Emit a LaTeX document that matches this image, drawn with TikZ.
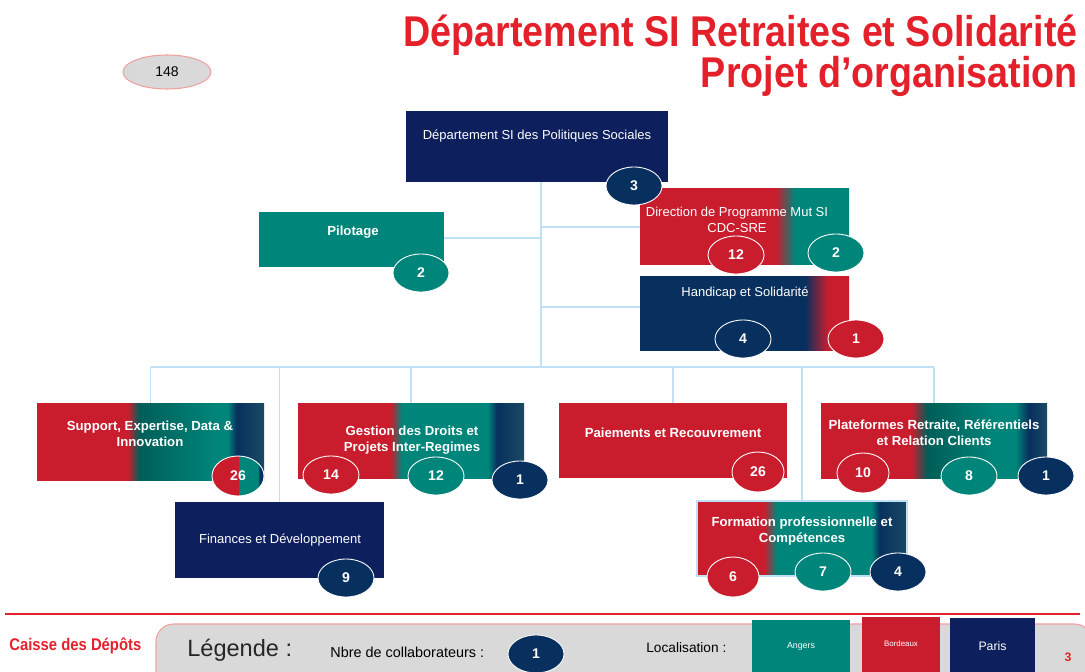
\documentclass[tikz,border=0pt]{standalone}
\usepackage{fontspec}
\setmainfont{Liberation Sans}
\usetikzlibrary{shapes.geometric}
\definecolor{cred}{HTML}{C91D2E}
\definecolor{tred}{HTML}{E4202A}
\definecolor{cteal}{HTML}{00857A}
\definecolor{dteal}{HTML}{005E58}
\definecolor{cnavy}{HTML}{0E1F5E}
\definecolor{bnavy}{HTML}{07305E}
\definecolor{lnavy}{HTML}{1B4A63}
\definecolor{conn}{HTML}{BFE0F5}
\definecolor{lgray}{HTML}{D9D9D9}
\definecolor{pinkb}{HTML}{F0A0A0}
\pgfdeclarehorizontalshading{shDir}{100bp}{color(0bp)=(cred); color(25bp)=(cred); color(57.5bp)=(cred); color(62bp)=(cteal); color(75bp)=(cteal); color(100bp)=(cteal)}
\pgfdeclarehorizontalshading{shHand}{100bp}{color(0bp)=(bnavy); color(25bp)=(bnavy); color(64.5bp)=(bnavy); color(70bp)=(cred); color(75bp)=(cred); color(100bp)=(cred)}
\pgfdeclarehorizontalshading{shSup}{100bp}{color(0bp)=(cred); color(25bp)=(cred); color(45bp)=(cred); color(47.5bp)=(dteal); color(64.5bp)=(cteal); color(67bp)=(cteal); color(69bp)=(bnavy); color(75bp)=(lnavy); color(100bp)=(lnavy)}
\pgfdeclarehorizontalshading{shGest}{100bp}{color(0bp)=(cred); color(25bp)=(cred); color(45.5bp)=(cred); color(48bp)=(cteal); color(67bp)=(cteal); color(69bp)=(bnavy); color(75bp)=(lnavy); color(100bp)=(lnavy)}
\pgfdeclarehorizontalshading{shPlat}{100bp}{color(0bp)=(cred); color(25bp)=(cred); color(45bp)=(cred); color(48.5bp)=(dteal); color(63.5bp)=(cteal); color(68bp)=(cteal); color(71bp)=(bnavy); color(75bp)=(lnavy); color(100bp)=(lnavy)}
\pgfdeclarehorizontalshading{shForm}{100bp}{color(0bp)=(cred); color(25bp)=(cred); color(41bp)=(cred); color(44bp)=(cteal); color(66.5bp)=(cteal); color(68.5bp)=(bnavy); color(75bp)=(lnavy); color(100bp)=(lnavy)}
\pgfdeclarehorizontalshading{shSplit}{100bp}{color(0bp)=(cred); color(25bp)=(cred); color(50bp)=(cred); color(50.01bp)=(cteal); color(69bp)=(cteal); color(71bp)=(bnavy); color(75bp)=(bnavy); color(100bp)=(bnavy)}
\begin{document}
\begin{tikzpicture}[x=0.02cm, y=-0.02cm,
  sz/.style 2 args={minimum width=#1*0.02cm, minimum height=#2*0.02cm},
  box/.style={rectangle, inner sep=0pt, draw=none},
  badge/.style={ellipse, minimum width=56*0.02cm, minimum height=38*0.02cm, draw=white, line width=0.5pt, inner sep=0pt, text=white, font=\bfseries\fontsize{8}{9}\selectfont},
  rtxt/.style={text=white, align=center, font=\fontsize{7.4}{9}\selectfont},
  btxt/.style={text=white, align=center, font=\bfseries\fontsize{7.5}{9}\selectfont},
  conn/.style={draw=conn, line width=0.8pt},
  ttl/.style={anchor=base east, text=tred, font=\bfseries\fontsize{24.5}{27}\selectfont, inner sep=0pt}]
\useasboundingbox (0,0) rectangle (1085,672);
\clip (0,0) rectangle (1085,672);
% title
\node[ttl] (t1) at (1078,47) {\scalebox{0.875}[1]{Département SI Retraites et Solidarité}};
\node[ttl] (t2) at (1078,88) {\scalebox{0.875}[1]{Projet d’organisation}};
\node[ellipse, fill=lgray, draw=pinkb, line width=0.6pt, minimum width=88*0.02cm, minimum height=34*0.02cm, inner sep=0pt, font=\fontsize{8}{9}\selectfont] (tot) at (167,72) {148};
% boxes
\node[box, sz={262}{71}, fill=cnavy] (top) at (537,146.5) {};
\node[box, sz={185}{55}, fill=cteal] (pil) at (351.5,239.5) {};
\node[box, sz={209}{76}, shading=shDir] (dir) at (744.5,227) {};
\node[box, sz={209}{74}, shading=shHand] (hand) at (744.5,313) {};
\node[box, sz={227}{77}, shading=shSup] (sup) at (150.5,441.5) {};
\node[box, sz={226}{75}, shading=shGest] (gest) at (411,440.5) {};
\node[box, sz={209}{76}, fill=cnavy] (fin) at (279.5,540) {};
\node[box, sz={228}{75}, fill=cred] (paie) at (673,440.5) {};
\node[box, sz={226}{75}, shading=shPlat] (plat) at (934,440.5) {};
\node[box, sz={210}{75}, shading=shForm, draw=conn, line width=0.8pt] (form) at (802,538.5) {};
% connectors
\coordinate (bus) at (541,367);
\draw[conn] (top.south -| bus) -- (bus);
\draw[conn] (pil.east) ++(0,-1.5) coordinate (pe) -- (pe -| bus);
\draw[conn] (dir.west) -- (dir.west -| bus);
\draw[conn] (hand.west) ++(0,-6) coordinate (hw) -- (hw -| bus);
\draw[conn] (sup.north |- bus) -- (plat.north |- bus);
\draw[conn] (sup.north) -- (sup.north |- bus);
\draw[conn] (gest.north) -- (gest.north |- bus);
\draw[conn] (fin.north) -- (fin.north |- bus);
\draw[conn] (paie.north) -- (paie.north |- bus);
\draw[conn] (form.north) -- (form.north |- bus);
\draw[conn] (plat.north) -- (plat.north |- bus);
% texts
\node[rtxt] (ttop) at (537,136) {Département SI des Politiques Sociales};
\node[btxt] (tpil) at (353,232) {Pilotage};
\node[rtxt] (tdir) at (737,220) {Direction de Programme  Mut SI\\CDC-SRE};
\node[rtxt] (thand) at (745,293) {Handicap et Solidarité};
\node[btxt] (tsup) at (150,434) {Support, Expertise, Data \&\\Innovation};
\node[btxt] (tgest) at (412,440) {Gestion des Droits et\\Projets Inter-Regimes};
\node[rtxt] (tfin) at (280,540) {Finances et Développement};
\node[btxt] (tpaie) at (673,433) {Paiements et Recouvrement};
\node[btxt] (tplat) at (934,433) {Plateformes  Retraite, Référentiels\\et Relation  Clients};
\node[btxt] (tform) at (802,531) {Formation professionnelle  et\\Compétences};
% badges
\node[badge, fill=bnavy] (b1) at (634,186) {3};
\node[badge, fill=cteal] (b2) at (421,273) {2};
\node[badge, fill=cred] (b3) at (736,255) {12};
\node[badge, fill=cteal] (b4) at (836,253) {2};
\node[badge, fill=bnavy] (b5) at (743,339) {4};
\node[badge, fill=cred] (b6) at (856,339) {1};
\node[badge, shading=shSplit, minimum width=52*0.02cm, minimum height=40*0.02cm] (b7) at (238,476) {26};
\node[badge, fill=cred] (b8) at (331,475) {14};
\node[badge, fill=cteal] (b9) at (436,476) {12};
\node[badge, fill=bnavy] (b10) at (520,480) {1};
\node[badge, fill=bnavy] (b11) at (346,578) {9};
\node[badge, fill=cred, minimum width=52*0.02cm, minimum height=40*0.02cm] (b12) at (758,472) {26};
\node[badge, fill=cred, minimum width=52*0.02cm, minimum height=40*0.02cm] (b13) at (863,473) {10};
\node[badge, fill=cteal] (b14) at (969,476) {8};
\node[badge, fill=bnavy] (b15) at (1046,476) {1};
\node[badge, fill=cred, minimum width=52*0.02cm, minimum height=40*0.02cm] (b16) at (733,577) {6};
\node[badge, fill=cteal] (b17) at (823,572) {7};
\node[badge, fill=bnavy] (b18) at (898,572) {4};
% footer
\draw[tred, line width=1.2pt] (5,614) -- (1080,614);
\node[anchor=west, text=tred, font=\bfseries\fontsize{9.6}{11}\selectfont, inner sep=0pt] (cdc) at (9,646) {\scalebox{0.88}[1]{Caisse des Dépôts}};
\draw[fill=lgray, draw=pinkb, line width=0.6pt, rounded corners=10pt] (156,624) rectangle (1092,700);
\node[anchor=west, text=black!85, font=\fontsize{13.4}{15}\selectfont, inner sep=0pt] (leg) at (187,650) {Légende :};
\node[anchor=west, text=black, font=\fontsize{8.2}{10}\selectfont, inner sep=0pt] (nb) at (330,652) {Nbre de collaborateurs :};
\node[badge, fill=bnavy] (lb) at (536,654) {1};
\node[anchor=west, text=black, font=\fontsize{7.8}{10}\selectfont, inner sep=0pt] (loc) at (646,648) {Localisation :};
\node[box, sz={98}{60}, fill=cteal] (ang) at (801,650) {};
\node[text=white, font=\fontsize{5}{6}\selectfont] (tang) at (801,646) {Angers};
\node[box, sz={78}{60}, fill=cred] (bor) at (901,647) {};
\node[text=white, font=\fontsize{4.5}{6}\selectfont] (tbor) at (901,644) {Bordeaux};
\node[box, sz={85}{60}, fill=cnavy] (par) at (992.5,648) {};
\node[text=white, font=\fontsize{7}{8}\selectfont] (tpar) at (992.5,646) {Paris};
\node[text=tred, font=\bfseries\fontsize{7}{8}\selectfont] (pg) at (1068,657) {3};
\end{tikzpicture}
\end{document}
